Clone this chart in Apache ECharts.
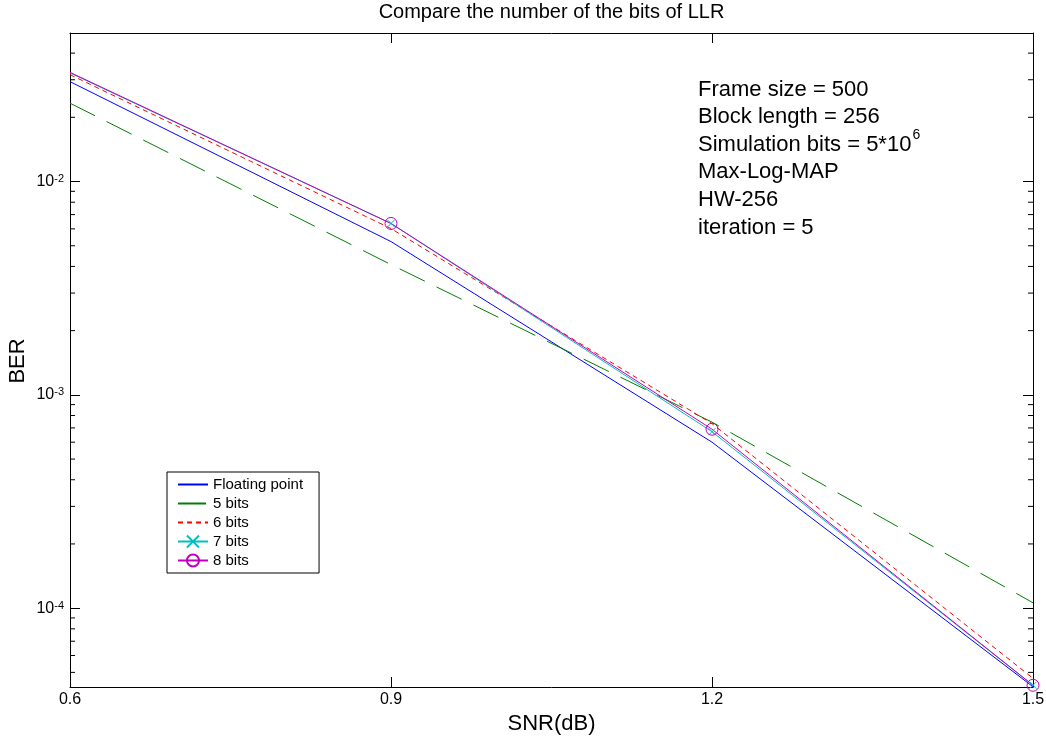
<!DOCTYPE html>
<html><head><meta charset="utf-8">
<script src="https://cdn.jsdelivr.net/npm/echarts@6/dist/echarts.min.js"></script>
<style>html,body{margin:0;padding:0;background:#fff}#c{width:1046px;height:742px}</style>
</head><body><div id="c"></div>
<script>
const snr = [0.6, 0.9, 1.2, 1.5];
const berFloat = [0.0294, 0.00523, 0.000600, 0.0000428];
const ber5 = [0.0233, 0.00408, 0.000745, 0.000106];
const ber6 = [0.0317, 0.00602, 0.000733, 0.0000469];
const ber7 = [0.0323, 0.00636, 0.000672, 0.0000435];
const ber8 = [0.0325, 0.00636, 0.000690, 0.0000435];
const seriesNames = ['Floating point', '5 bits', '6 bits', '7 bits', '8 bits'];
const xTicks = [0.6, 0.9, 1.2, 1.5];
const yRange = [4.27e-5, 0.0497];
const titleText = 'Compare the number of the bits of LLR';
const xName = 'SNR(dB)';
const yName = 'BER';
const notes = ['Frame size = 500', 'Block length = 256', 'Simulation bits = 5*10^6', 'Max-Log-MAP', 'HW-256', 'iteration = 5'];

const FONT = '"Liberation Sans", Arial, sans-serif';
const pairs = arr => snr.map((x, i) => [x, arr[i]]);

// minor log tick values (2..9 x 10^k) inside the y range
const minorVals = [];
for (let e = Math.floor(Math.log10(yRange[0])); e <= Math.ceil(Math.log10(yRange[1])); e++) {
  for (let k = 2; k <= 9; k++) {
    const v = k * Math.pow(10, e);
    if (v > yRange[0] && v < yRange[1]) minorVals.push([xTicks[0], v]);
  }
}

const chart = echarts.init(document.getElementById('c'), null, {renderer: 'canvas'});

const noteText = notes.map(s => {
  const m = s.split('^');
  return m.length > 1 ? '{n|' + m[0] + '}{s|' + m[1] + '}' : '{n|' + s + '}';
}).join('\n');

const yLabelFmt = v => {
  const e = Math.log10(v);
  if (Math.abs(e - Math.round(e)) > 1e-6) return '';
  return '{b|10}{s|' + Math.round(e) + '}';
};

const axisCommon = {
  axisLine: {show: true, onZero: false, lineStyle: {color: '#000', width: 1}},
  axisTick: {show: true, inside: true, length: 10, lineStyle: {color: '#000', width: 1}},
  splitLine: {show: false}
};

const hideSym = {color: 'transparent', borderColor: 'transparent', borderWidth: 0};

const option = {
  backgroundColor: '#fff',
  animation: false,
  graphic: [
    {type: 'text', x: 551.5, y: 2, style: {text: titleText, font: '20px ' + FONT, fill: '#000', textAlign: 'center', textVerticalAlign: 'top'}},
    {type: 'text', x: 18, y: 361, rotation: Math.PI / 2,
     style: {text: yName, font: '22px ' + FONT, fill: '#000', textAlign: 'center', textVerticalAlign: 'middle'}},
    {type: 'text', x: 698, y: 73, style: {text: noteText, fill: '#000', textVerticalAlign: 'top',
      rich: {n: {fontSize: 22, fontFamily: FONT, lineHeight: 27.6, verticalAlign: 'bottom'},
             s: {fontSize: 14, fontFamily: FONT, lineHeight: 27.6, verticalAlign: 'top', padding: [0, 0, 0, 1]}}}}
  ],
  legend: {
    data: [
      {name: seriesNames[0], itemStyle: hideSym},
      {name: seriesNames[1], itemStyle: hideSym},
      {name: seriesNames[2], itemStyle: hideSym},
      {name: seriesNames[3]},
      {name: seriesNames[4]}
    ],
    orient: 'vertical',
    left: 167, top: 472,
    backgroundColor: '#fff',
    borderColor: '#000', borderWidth: 1,
    padding: [5, 16, 5, 10],
    itemWidth: 30, itemHeight: 15, itemGap: 4,
    textStyle: {fontSize: 15, fontFamily: FONT, color: '#000'}
  },
  grid: {left: 70, right: 13, top: 33, bottom: 55, containLabel: false, outerBoundsMode: 'none'},
  xAxis: [
    Object.assign({}, axisCommon, {
      type: 'value', position: 'bottom', min: 0.6, max: 1.5, interval: 0.3,
      name: xName, nameLocation: 'middle', nameGap: 26,
      nameTextStyle: {fontSize: 22, fontFamily: FONT, color: '#000'},
      axisLabel: {fontSize: 16, fontFamily: FONT, color: '#000', margin: 5, formatter: v => v.toFixed(1)}
    }),
    Object.assign({}, axisCommon, {
      type: 'value', position: 'top', min: 0.6, max: 1.5, interval: 0.3,
      axisLabel: {show: false}
    })
  ],
  yAxis: [
    Object.assign({}, axisCommon, {
      type: 'log', logBase: 10, position: 'left', min: yRange[0], max: yRange[1],
      axisLabel: {color: '#000', fontSize: 16, fontFamily: FONT, margin: 6, formatter: yLabelFmt,
        rich: {b: {fontSize: 16, fontFamily: FONT, color: '#000', lineHeight: 16, verticalAlign: 'bottom', padding: [9, 0, 0, 0]},
               s: {fontSize: 11, fontFamily: FONT, color: '#000', lineHeight: 11, verticalAlign: 'top'}}}
    }),
    Object.assign({}, axisCommon, {
      type: 'log', logBase: 10, position: 'right', min: yRange[0], max: yRange[1],
      axisLabel: {show: false}
    })
  ],
  series: [
    {name: seriesNames[0], type: 'line', data: pairs(berFloat), symbol: 'none',
     lineStyle: {color: '#0000ff', width: 1}, itemStyle: {color: '#0000ff'}},
    {name: seriesNames[1], type: 'line', data: pairs(ber5), symbol: 'none',
     lineStyle: {color: '#008000', width: 1, type: [28, 13]}, itemStyle: {color: '#008000'}},
    {name: seriesNames[2], type: 'line', data: pairs(ber6), symbol: 'none',
     lineStyle: {color: '#ff0000', width: 1, type: [5, 4]}, itemStyle: {color: '#ff0000'}},
    {name: seriesNames[3], type: 'line', data: pairs(ber7), symbol: 'path://M0,0L10,10M10,0L0,10',
     symbolSize: (v, p) => p.dataIndex === 0 ? 0 : 7, showAllSymbol: true,
     lineStyle: {color: '#00bfbf', width: 1},
     itemStyle: {color: 'transparent', borderColor: '#00bfbf', borderWidth: 1}},
    {name: seriesNames[4], type: 'line', data: pairs(ber8), symbol: 'circle',
     symbolSize: (v, p) => p.dataIndex === 0 ? 0 : 12, showAllSymbol: true,
     lineStyle: {color: '#bf00bf', width: 1},
     itemStyle: {color: 'transparent', borderColor: '#bf00bf', borderWidth: 1}},
    {type: 'custom', silent: true, data: minorVals, z: 5, clip: false,
     renderItem: (params, api) => {
       const cs = params.coordSys;
       const p = api.coord([api.value(0), api.value(1)]);
       const st = {stroke: '#000', lineWidth: 1};
       return {type: 'group', children: [
         {type: 'line', shape: {x1: cs.x, y1: p[1], x2: cs.x + 5, y2: p[1]}, style: st},
         {type: 'line', shape: {x1: cs.x + cs.width - 5, y1: p[1], x2: cs.x + cs.width, y2: p[1]}, style: st}
       ]};
     }}
  ]
};
chart.setOption(option);
</script></body></html>
